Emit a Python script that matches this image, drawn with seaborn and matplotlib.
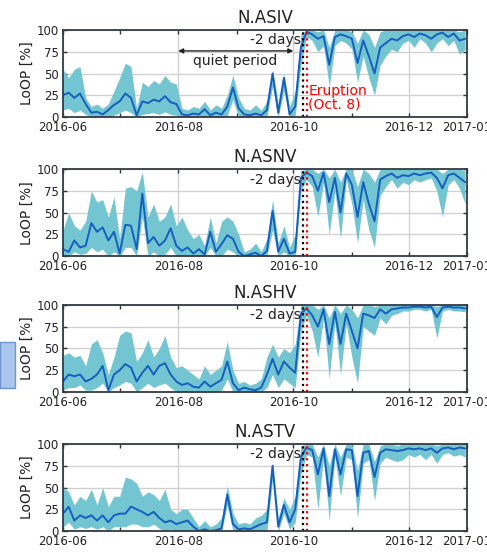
"""LoOP time series for four stations around the Oct. 8 eruption."""
import matplotlib
matplotlib.use("Agg")
import matplotlib.dates as mdates
import matplotlib.pyplot as plt
import numpy as np
import pandas as pd
import seaborn as sns
from matplotlib.patches import Rectangle

# 3-day samples, 2016-06-01 .. 2016-12-31
dates = pd.date_range("2016-06-01", periods=72, freq="3D")
stations = ["N.ASIV", "N.ASNV", "N.ASHV", "N.ASTV"]

asiv_mid = [25, 28, 22, 27, 15, 5, 6, 3, 8, 14, 18, 27, 22, 2, 18, 16, 20, 18, 24, 17,
            15, 3, 2, 4, 3, 9, 2, 5, 3, 12, 34, 10, 3, 2, 4, 2, 8, 50, 5, 45,
            3, 12, 80, 98, 95, 90, 93, 60, 92, 95, 93, 90, 62, 88, 70, 50, 80, 85, 90, 88,
            93, 95, 92, 96, 94, 90, 95, 97, 92, 96, 88, 90]
asiv_hi = [55, 45, 55, 58, 22, 12, 15, 10, 15, 30, 45, 62, 58, 10, 40, 35, 42, 38, 48, 40,
           38, 10, 8, 12, 10, 18, 8, 14, 10, 25, 48, 22, 10, 8, 14, 8, 18, 55, 15, 50,
           12, 30, 95, 100, 100, 98, 100, 80, 100, 100, 100, 98, 85, 100, 95, 80, 98, 100, 100, 100,
           100, 100, 100, 100, 100, 100, 100, 100, 100, 100, 98, 100]
asiv_lo = [8, 10, 5, 8, 3, 0, 0, 0, 0, 2, 5, 8, 5, 0, 3, 4, 5, 3, 6, 3,
           2, 0, 0, 0, 0, 0, 0, 0, 0, 2, 20, 0, 0, 0, 0, 0, 0, 35, 0, 30,
           0, 2, 60, 92, 88, 75, 82, 35, 82, 88, 85, 78, 40, 70, 45, 25, 60, 70, 78, 75,
           85, 88, 80, 90, 85, 75, 85, 90, 82, 88, 72, 78]

asnv_mid = [8, 5, 18, 10, 12, 38, 28, 33, 18, 28, 3, 36, 35, 8, 72, 15, 22, 12, 18, 32,
            12, 6, 10, 3, 8, 2, 28, 5, 14, 24, 20, 5, 0, 2, 4, 0, 6, 52, 5, 20,
            3, 5, 90, 96, 92, 75, 96, 62, 90, 50, 95, 82, 45, 85, 60, 40, 88, 92, 95, 90,
            93, 92, 95, 93, 95, 96, 90, 78, 93, 95, 90, 85]
asnv_hi = [30, 50, 35, 30, 40, 75, 62, 65, 45, 68, 20, 78, 80, 75, 97, 45, 60, 40, 45, 60,
           35, 45, 30, 20, 25, 12, 45, 15, 40, 45, 40, 25, 5, 8, 15, 5, 20, 65, 15, 35,
           10, 25, 98, 100, 100, 95, 100, 90, 100, 85, 100, 100, 80, 100, 95, 85, 100, 100, 100, 100,
           100, 100, 100, 100, 100, 100, 100, 95, 100, 100, 100, 98]
asnv_lo = [0, 0, 5, 2, 3, 10, 5, 8, 0, 5, 0, 10, 10, 0, 45, 0, 5, 0, 2, 10,
           0, 0, 0, 0, 0, 0, 10, 0, 0, 8, 5, 0, 0, 0, 0, 0, 0, 30, 0, 5,
           0, 0, 75, 88, 80, 45, 85, 25, 75, 20, 88, 60, 15, 65, 30, 10, 70, 80, 88, 78,
           85, 82, 88, 85, 88, 90, 75, 45, 82, 88, 78, 60]

ashv_mid = [12, 20, 18, 20, 12, 15, 20, 30, 2, 20, 25, 32, 28, 12, 22, 30, 20, 30, 33, 20,
            12, 8, 10, 6, 5, 12, 6, 10, 14, 35, 10, 2, 5, 3, 2, 5, 20, 38, 20, 35,
            28, 22, 90, 96, 88, 75, 95, 55, 92, 55, 90, 70, 50, 90, 88, 85, 95, 90, 95, 96,
            97, 97, 98, 98, 97, 98, 86, 97, 98, 97, 97, 96]
ashv_hi = [42, 45, 40, 42, 30, 55, 60, 45, 20, 40, 65, 70, 68, 35, 45, 60, 40, 50, 65, 40,
           28, 30, 25, 20, 15, 30, 20, 25, 30, 58, 25, 10, 12, 8, 10, 15, 40, 55, 40, 50,
           45, 55, 100, 100, 100, 95, 100, 85, 100, 90, 100, 95, 85, 100, 100, 98, 100, 100, 100, 100,
           100, 100, 100, 100, 100, 100, 98, 100, 100, 100, 100, 100]
ashv_lo = [2, 5, 5, 8, 2, 2, 5, 10, 0, 5, 8, 12, 10, 0, 5, 10, 5, 8, 10, 5,
           0, 0, 0, 0, 0, 0, 0, 0, 2, 15, 0, 0, 0, 0, 0, 0, 5, 20, 5, 15,
           10, 5, 70, 88, 70, 40, 85, 15, 80, 20, 78, 40, 10, 75, 70, 65, 85, 78, 88, 90,
           93, 93, 95, 95, 93, 95, 62, 93, 95, 93, 93, 92]

astv_mid = [20, 28, 12, 18, 15, 18, 12, 18, 10, 18, 20, 20, 28, 25, 22, 18, 22, 15, 10, 12,
            8, 10, 12, 5, 0, 2, 0, 1, 3, 42, 8, 2, 3, 2, 5, 8, 10, 75, 5, 30,
            10, 25, 85, 96, 93, 65, 95, 40, 94, 65, 94, 93, 40, 90, 92, 62, 90, 94, 93, 92,
            93, 95, 94, 95, 93, 95, 90, 95, 96, 94, 96, 95]
astv_hi = [50, 45, 30, 40, 35, 48, 30, 50, 28, 40, 40, 62, 60, 55, 40, 45, 42, 35, 48, 25,
           20, 25, 25, 15, 5, 12, 5, 8, 15, 52, 20, 8, 10, 8, 15, 18, 25, 78, 15, 38,
           25, 40, 98, 100, 100, 85, 100, 75, 100, 85, 100, 100, 70, 100, 100, 80, 98, 100, 100, 98,
           100, 100, 100, 100, 100, 100, 98, 100, 100, 100, 100, 100]
astv_lo = [5, 10, 2, 5, 3, 5, 2, 5, 0, 5, 5, 5, 8, 8, 5, 5, 8, 3, 0, 2,
           0, 0, 0, 0, 0, 0, 0, 0, 0, 30, 0, 0, 0, 0, 0, 0, 0, 60, 0, 20,
           2, 10, 65, 88, 85, 25, 85, 12, 85, 40, 85, 82, 15, 78, 82, 35, 78, 85, 82, 80,
           82, 88, 85, 88, 82, 88, 78, 88, 90, 86, 88, 85]

series = {
    "N.ASIV": (asiv_mid, asiv_lo, asiv_hi),
    "N.ASNV": (asnv_mid, asnv_lo, asnv_hi),
    "N.ASHV": (ashv_mid, ashv_lo, ashv_hi),
    "N.ASTV": (astv_mid, astv_lo, astv_hi),
}

precursor = pd.Timestamp("2016-10-06")
eruption = pd.Timestamp("2016-10-08")
quiet_start, quiet_end = pd.Timestamp("2016-08-01"), pd.Timestamp("2016-10-01")

BAND = "#74c5d2"
LINE = "#155fbf"

sns.set_style("ticks")
plt.rcParams.update({"font.family": ["DejaVu Sans"], "font.size": 9})

fig = plt.figure(figsize=(4.87, 5.52), dpi=100)
bottoms = [0.788, 0.536, 0.290, 0.038]

for name, bottom in zip(stations, bottoms):
    mid, lo, hi = series[name]
    ax = fig.add_axes([0.1294, bottom, 0.8296, 0.1576])
    ax.fill_between(dates, lo, hi, color=BAND, lw=0)
    sns.lineplot(x=dates, y=mid, ax=ax, color=LINE, lw=1.4)
    ax.axvline(precursor, color="black", ls=":", lw=1.6)
    ax.axvline(eruption, color="red", ls=":", lw=1.6)

    ax.set_xlim(pd.Timestamp("2016-06-01"), pd.Timestamp("2017-01-01"))
    ax.set_ylim(0, 100)
    ax.set_yticks([0, 25, 50, 75, 100])
    ax.xaxis.set_major_locator(mdates.MonthLocator(bymonth=(1, 6, 8, 10, 12)))
    ax.xaxis.set_minor_locator(mdates.MonthLocator())
    ax.xaxis.set_major_formatter(mdates.DateFormatter("%Y-%m"))
    ax.grid(True, which="major", color="#cfcfcf", lw=0.9)
    ax.tick_params(which="both", direction="in", top=True, right=True,
                   length=3, width=1, color="#333333")
    ax.tick_params(which="major", labelsize=8.5, labelcolor="#222222", pad=3)
    for sp in ax.spines.values():
        sp.set_color("#333a44")
        sp.set_linewidth(1.3)
        sp.set_visible(True)
    ax.set_xlabel("")
    ax.set_ylabel("LoOP [%]", fontsize=10, color="#222222", labelpad=2)
    ax.set_title(name, fontsize=12, color="#222222", pad=5)

    ax.text(precursor - pd.Timedelta(days=1), 88, "-2 days", ha="right", va="center",
            fontsize=10, color="#222222")

    if name == "N.ASIV":
        ax.annotate("", xy=(quiet_start, 76), xytext=(quiet_end, 76),
                    arrowprops=dict(arrowstyle="<|-|>", color="#222222", lw=1,
                                    mutation_scale=7, shrinkA=0, shrinkB=0))
        ax.text(pd.Timestamp("2016-08-31"), 64, "quiet period", ha="center", va="center",
                fontsize=10, color="#222222")
        ax.text(eruption + pd.Timedelta(days=1), 22, "Eruption\n(Oct. 8)", ha="left",
                va="center", fontsize=10, color="red", linespacing=1.0)

# slide artefact at the left edge
fig.add_artist(Rectangle((0.0, 0.297), 0.03, 0.083, transform=fig.transFigure,
                         facecolor="#a9c6ec", edgecolor="#6f95cf", lw=1))

fig.savefig("out.png", dpi=100)
